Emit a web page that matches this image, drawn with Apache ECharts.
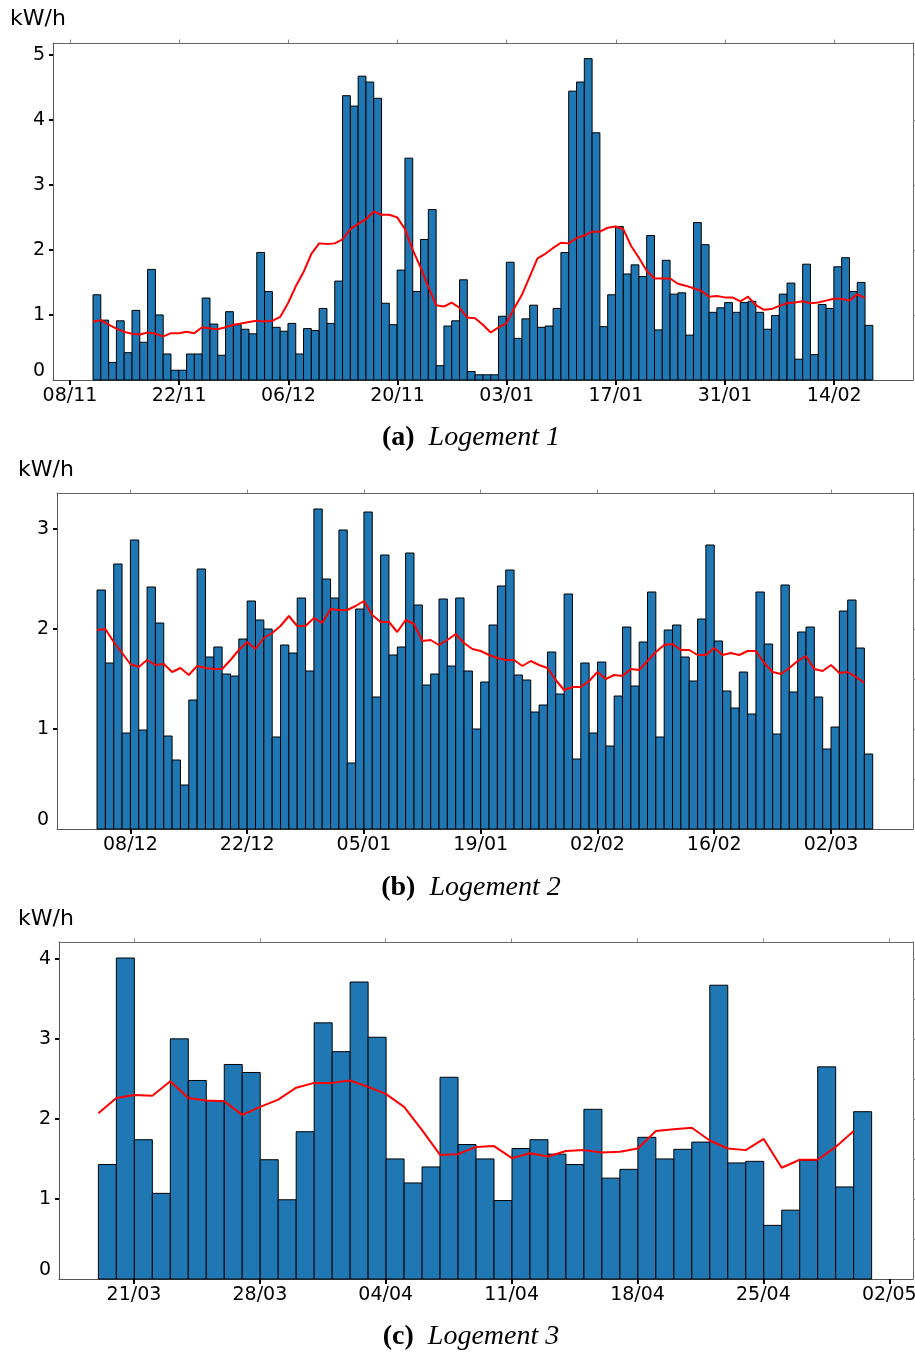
<!DOCTYPE html>
<html>
<head>
<meta charset="utf-8">
<script src="https://cdn.jsdelivr.net/npm/echarts@6/dist/echarts.min.js"></script>
<style>
html,body{margin:0;padding:0;background:#fff;}
#chart{width:915px;height:1355px;}
</style>
</head>
<body>
<div id="chart"></div>
<script>
// ---------- DATA ----------
// Panel (a) Logement 1 : daily values (kW/h), day 0 = 08/11
const ticks1 = ['08/11','22/11','06/12','20/11','03/01','17/01','31/01','14/02'];
const start1 = 2.95; // first day offset (days after 08/11)
const bars1 = [1.31,0.92,0.27,0.91,0.42,1.07,0.58,1.70,1.00,0.40,
               0.15,0.15,0.40,0.40,1.26,0.86,0.38,1.05,0.85,0.78,
               0.71,1.96,1.36,0.81,0.75,0.87,0.40,0.79,0.76,1.10,
               0.87,1.52,4.37,4.21,4.67,4.58,4.33,1.18,0.85,1.69,
               3.41,1.36,2.16,2.62,0.22,0.83,0.91,1.54,0.13,0.08,
               0.08,0.08,0.98,1.81,0.64,0.94,1.15,0.81,0.83,1.10,
               1.96,4.44,4.58,4.94,3.80,0.82,1.31,2.36,1.63,1.77,
               1.59,2.22,0.77,1.84,1.32,1.34,0.69,2.42,2.08,1.04,
               1.11,1.19,1.04,1.19,1.21,1.04,0.78,0.99,1.32,1.49,
               0.32,1.78,0.39,1.16,1.10,1.74,1.88,1.36,1.50,0.84];
const avg1 = [0.90,0.92,0.85,0.79,0.74,0.71,0.70,0.73,0.71,0.67,
              0.72,0.72,0.74,0.72,0.81,0.79,0.78,0.81,0.85,0.87,
              0.89,0.91,0.90,0.91,0.97,1.18,1.44,1.66,1.94,2.10,
              2.09,2.10,2.16,2.32,2.40,2.47,2.59,2.54,2.54,2.50,
              2.32,2.00,1.73,1.43,1.15,1.13,1.19,1.11,0.96,0.95,
              0.85,0.73,0.81,0.87,1.10,1.31,1.59,1.87,1.94,2.03,
              2.11,2.10,2.18,2.22,2.28,2.28,2.34,2.36,2.32,2.06,
              1.88,1.68,1.56,1.56,1.56,1.48,1.45,1.41,1.37,1.28,
              1.29,1.27,1.27,1.21,1.28,1.15,1.08,1.09,1.14,1.18,
              1.19,1.21,1.18,1.19,1.22,1.25,1.25,1.22,1.32,1.26];

// Panel (b) Logement 2 : day 0 = 08/12
const ticks2 = ['08/12','22/12','05/01','19/01','02/02','16/02','02/03'];
const start2 = -4.0;
const bars2 = [2.39,1.66,2.65,0.96,2.89,0.99,2.42,2.06,0.93,0.69,
               0.44,1.29,2.60,1.72,1.82,1.55,1.53,1.90,2.28,2.09,
               2.00,0.92,1.84,1.76,2.31,1.58,3.20,2.50,2.31,2.99,
               0.66,2.20,3.17,1.32,2.74,1.74,1.82,2.76,2.24,1.44,
               1.55,2.30,1.63,2.31,1.58,1.00,1.47,2.04,2.43,2.59,
               1.54,1.49,1.17,1.24,1.77,1.35,2.35,0.70,1.66,0.96,
               1.67,0.83,1.33,2.02,1.43,1.87,2.37,0.92,1.99,2.04,
               1.72,1.48,2.10,2.84,1.88,1.38,1.21,1.57,1.15,2.37,
               1.85,0.95,2.44,1.37,1.97,2.02,1.32,0.80,1.02,2.18,
               2.29,1.81,0.75];
const avg2 = [1.99,2.00,1.87,1.76,1.65,1.62,1.69,1.64,1.65,1.57,
              1.61,1.54,1.63,1.61,1.60,1.60,1.69,1.79,1.87,1.80,
              1.91,1.96,2.03,2.13,2.03,2.03,2.11,2.06,2.20,2.19,
              2.19,2.23,2.28,2.14,2.07,2.07,1.97,2.09,2.05,1.88,
              1.89,1.84,1.89,1.95,1.86,1.80,1.78,1.74,1.71,1.69,
              1.69,1.63,1.68,1.64,1.61,1.49,1.39,1.42,1.42,1.48,
              1.57,1.50,1.54,1.53,1.60,1.59,1.68,1.77,1.84,1.85,
              1.79,1.79,1.74,1.74,1.81,1.74,1.76,1.74,1.78,1.78,
              1.66,1.57,1.55,1.61,1.68,1.73,1.60,1.58,1.64,1.56,
              1.57,1.52,1.46];

// Panel (c) Logement 3 : day 0 = 21/03
const ticks3 = ['21/03','28/03','04/04','11/04','18/04','25/04','02/05'];
const start3 = -1.98;
const bars3 = [1.43,4.01,1.74,1.07,3.00,2.48,2.23,2.68,2.58,1.49,
               0.99,1.84,3.20,2.84,3.71,3.02,1.50,1.20,1.40,2.52,
               1.68,1.50,0.98,1.63,1.74,1.56,1.43,2.12,1.26,1.37,
               1.77,1.50,1.62,1.71,3.67,1.45,1.47,0.67,0.86,1.48,
               2.65,1.15,2.09];
const avg3 = [2.07,2.26,2.30,2.29,2.47,2.26,2.23,2.22,2.05,2.15,
              2.24,2.39,2.45,2.45,2.48,2.40,2.31,2.15,1.86,1.55,
              1.56,1.65,1.66,1.51,1.57,1.53,1.60,1.61,1.58,1.59,
              1.63,1.85,1.87,1.89,1.73,1.63,1.61,1.75,1.39,1.49,
              1.49,1.65,1.85];

const yTicks1 = [0,1,2,3,4,5];
const yTicks2 = [0,1,2,3];
const yTicks3 = [0,1,2,3,4];

// ---------- LAYOUT ----------
const panels = [
  {grid:{left:53, top:43, width:860, height:337}, xmin:-2.18, xmax:108.1, step:14, ticks:ticks1,
   ymax:5.18, yTicks:yTicks1, rStep:1, start:start1, bars:bars1, avg:avg1,
   unitPos:[10,19], cap:['(a)','Logement 1'], capPos:[471,438]},
  {grid:{left:57, top:493, width:856, height:336}, xmin:-8.8, xmax:93.83, step:14, ticks:ticks2,
   ymax:3.36, yTicks:yTicks2, rStep:0.5, start:start2, bars:bars2, avg:avg2,
   unitPos:[18,470], cap:['(b)','Logement 2'], capPos:[471,888]},
  {grid:{left:59, top:942, width:854, height:337}, xmin:-4.17, xmax:43.32, step:7, ticks:ticks3,
   ymax:4.21, yTicks:yTicks3, rStep:0.5, start:start3, bars:bars3, avg:avg3,
   unitPos:[18,919], cap:['(c)','Logement 3'], capPos:[471,1337]}
];

const FONT = 'DejaVu Sans';
const spine = {show:true, onZero:false, lineStyle:{color:'#555', width:1}};
const spineLight = {show:true, onZero:false, lineStyle:{color:'#666', width:1}};
const grids = [], xAxes = [], yAxes = [], series = [], graphics = [];

// one bar per day: spans [day, day+1] on the x scale, from 0 up to value
function renderDayBar(params, api) {
  const p0 = api.coord([api.value(0), 0]);
  const p1 = api.coord([api.value(1), api.value(2)]);
  return {
    type:'rect',
    shape:{x:p0[0], y:p1[1], width:p1[0] - p0[0], height:p0[1] - p1[1]},
    style:{fill:'#1f77b4', stroke:'#000', lineWidth:1}
  };
}

panels.forEach((p, k) => {
  grids.push(Object.assign({containLabel:false, outerBoundsMode:'none'}, p.grid));
  const tickVals = p.ticks.map((_, i) => i * p.step);
  const leftTickVals = p.yTicks.filter(v => v > 0);
  const rightVals = [];
  for (let v = p.rStep; v <= p.yTicks[p.yTicks.length - 1] + 1e-9; v += p.rStep) rightVals.push(v);

  xAxes.push({
    type:'value', gridIndex:k, position:'bottom', min:p.xmin, max:p.xmax,
    axisLine: spine,
    axisTick:{show:true, customValues:tickVals, length:5, lineStyle:{color:'#000', width:2}},
    axisLabel:{show:true, customValues:tickVals, margin:7, fontSize:19, fontFamily:FONT, color:'#000',
      formatter:(v) => p.ticks[Math.round(v / p.step)] || ''},
    splitLine:{show:false}
  });
  xAxes.push({
    type:'value', gridIndex:k, position:'top', min:p.xmin, max:p.xmax,
    axisLine: spineLight,
    axisTick:{show:true, customValues:tickVals, length:3.5, lineStyle:{color:'#888', width:1}},
    axisLabel:{show:false}, splitLine:{show:false}
  });
  yAxes.push({
    type:'value', gridIndex:k, position:'left', min:0, max:p.ymax,
    axisLine: spine,
    axisTick:{show:true, customValues:leftTickVals, length:4, lineStyle:{color:'#000', width:2}},
    axisLabel:{show:true, customValues:p.yTicks, margin:8, fontSize:19, fontFamily:FONT, color:'#000',
      formatter:(v) => v === 0 ? '{z|0}' : String(v),
      rich:{z:{fontSize:19, fontFamily:FONT, color:'#000', padding:[0,0,18,0]}}},
    splitLine:{show:false}
  });
  yAxes.push({
    type:'value', gridIndex:k, position:'right', min:0, max:p.ymax,
    axisLine: spineLight,
    axisTick:{show:true, customValues:rightVals, length:3.5, lineStyle:{color:'#888', width:1}},
    axisLabel:{show:false}, splitLine:{show:false}
  });

  series.push({
    type:'custom', xAxisIndex:2*k, yAxisIndex:2*k, renderItem:renderDayBar,
    encode:{x:[0,1], y:2},
    data:p.bars.map((v, i) => [p.start + i, p.start + i + 1, v]),
    z:2, silent:true
  });
  series.push({
    type:'line', xAxisIndex:2*k, yAxisIndex:2*k, showSymbol:false, symbol:'none',
    data:p.avg.map((v, i) => [p.start + i, v]),
    lineStyle:{color:'#ff0000', width:2}, itemStyle:{color:'#ff0000'},
    z:3, silent:true
  });

  graphics.push({
    type:'text', x:p.unitPos[0], y:p.unitPos[1],
    style:{text:'kW/h', fontSize:22, fontFamily:FONT, fill:'#000', verticalAlign:'middle', align:'left'}
  });
  graphics.push({
    type:'text', x:p.capPos[0], y:p.capPos[1],
    style:{text:'{b|' + p.cap[0] + '}  {i|' + p.cap[1] + '}', align:'center', verticalAlign:'middle',
      rich:{
        b:{fontSize:28, fontFamily:'Liberation Serif', fontWeight:'bold', fill:'#000', color:'#000'},
        i:{fontSize:28, fontFamily:'Liberation Serif', fontStyle:'italic', fill:'#000', color:'#000'}
      },
      fontSize:28, fontFamily:'Liberation Serif', fill:'#000'}
  });
});

const chart = echarts.init(document.getElementById('chart'), null, {renderer:'canvas'});
chart.setOption({
  animation:false,
  backgroundColor:'#fff',
  grid:grids, xAxis:xAxes, yAxis:yAxes, series:series, graphic:graphics
});
</script>
</body>
</html>
